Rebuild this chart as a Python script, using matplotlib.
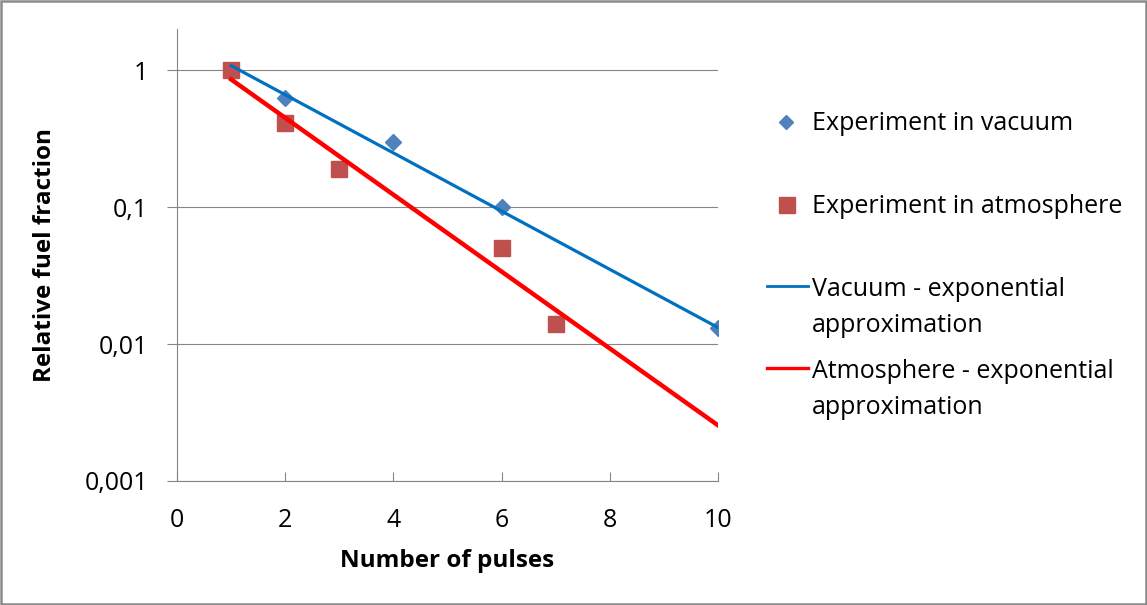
import matplotlib
matplotlib.use("Agg")
import matplotlib.pyplot as plt
from matplotlib.patches import Rectangle

# -------------------------------
# data
# -------------------------------
vac_pulses = [1, 2, 4, 6, 10]
vac_fraction = [1.0, 0.63, 0.30, 0.10, 0.0132]

atm_pulses = [1, 2, 3, 6, 7]
atm_fraction = [1.0, 0.41, 0.19, 0.05, 0.014]

# exponential trendlines, end points
fit_pulses = [1, 10]
vac_fit = [1.08, 0.0132]
atm_fit = [0.857, 0.00255]

x_ticks = [0, 2, 4, 6, 8, 10]
y_ticks = [0.001, 0.01, 0.1, 1]
y_tick_labels = ["0,001", "0,01", "0,1", "1"]

legend_labels = ["Experiment in vacuum", "Experiment in atmosphere",
                 "Vacuum - exponential\napproximation",
                 "Atmosphere - exponential\napproximation"]

# -------------------------------
# figure / styling
# -------------------------------
plt.rcParams["font.family"] = ["Open Sans", "DejaVu Sans"]
FS = 18
FS_LABEL = 17.5
W, H = 1147, 605
GRAY = "#868686"
BLUE_M = "#4F81BD"
RED_M = "#C0504D"
BLUE_L = "#0070C0"
RED_L = "#FF0000"

fig = plt.figure(figsize=(W / 100, H / 100), dpi=100)
ax = fig.add_axes([177 / W, 1 - 481 / H, (718 - 177) / W, (481 - 29) / H])

ax.plot(vac_pulses, vac_fraction, linestyle="none", marker="D", markersize=8,
        color=BLUE_M, zorder=3)
ax.plot(atm_pulses, atm_fraction, linestyle="none", marker="s", markersize=11.5,
        color=RED_M, zorder=3)
ax.plot(fit_pulses, vac_fit, color=BLUE_L, lw=2.3, zorder=4)
ax.plot(fit_pulses, atm_fit, color=RED_L, lw=3.2, zorder=4)

ax.set_yscale("log")
ax.set_xlim(0, 10)
ax.set_ylim(0.001, 2)
ax.set_xticks(x_ticks)
ax.set_xticklabels([str(t) for t in x_ticks])
ax.set_yticks(y_ticks)
ax.set_yticklabels(y_tick_labels)
ax.yaxis.set_minor_locator(matplotlib.ticker.NullLocator())

ax.grid(axis="y", color=GRAY, lw=0.8)
ax.set_axisbelow(True)
for s in ["top", "right"]:
    ax.spines[s].set_visible(False)
for s in ["left", "bottom"]:
    ax.spines[s].set_color(GRAY)
    ax.spines[s].set_linewidth(0.8)

ax.tick_params(axis="x", direction="in", length=6.5, width=0.8, color=GRAY,
               pad=19.5, labelsize=FS)
ax.tick_params(axis="y", direction="out", length=7.2, width=0.8, color=GRAY,
               pad=13.5, labelsize=FS)

ax.set_xlabel("Number of pulses", fontsize=FS_LABEL, fontweight="bold", va="center")
ax.xaxis.set_label_coords(0.5, (481 - 561) / (481 - 29))
ax.set_ylabel("Relative fuel fraction", fontsize=FS_LABEL, fontweight="bold",
              va="center")
ax.yaxis.set_label_coords((45 - 177) / (718 - 177), 0.5)

# -------------------------------
# legend + chart border, drawn in pixel coords
# -------------------------------
ov = fig.add_axes([0, 0, 1, 1])
ov.set_xlim(0, W)
ov.set_ylim(H, 0)
ov.set_axis_off()

ov.plot([786], [122], marker="D", markersize=7.5, color=BLUE_M, linestyle="none")
ov.plot([787], [205], marker="s", markersize=11, color=RED_M, linestyle="none")
ov.plot([767, 808], [286, 286], color=BLUE_L, lw=2.0)
ov.plot([767, 808], [368, 368], color=RED_L, lw=2.4)

baselines = [[130], [212.7], [296, 332], [378, 414]]
for label, bls in zip(legend_labels, baselines):
    for line, bl in zip(label.split("\n"), bls):
        ov.text(812, bl, line, fontsize=FS, va="baseline", ha="left")

ov.add_patch(Rectangle((1.2, 1.2), W - 2.4, H - 2.4, fill=False,
                       edgecolor="#8A8A8A", lw=1.8))

fig.savefig("out.png", dpi=100)
